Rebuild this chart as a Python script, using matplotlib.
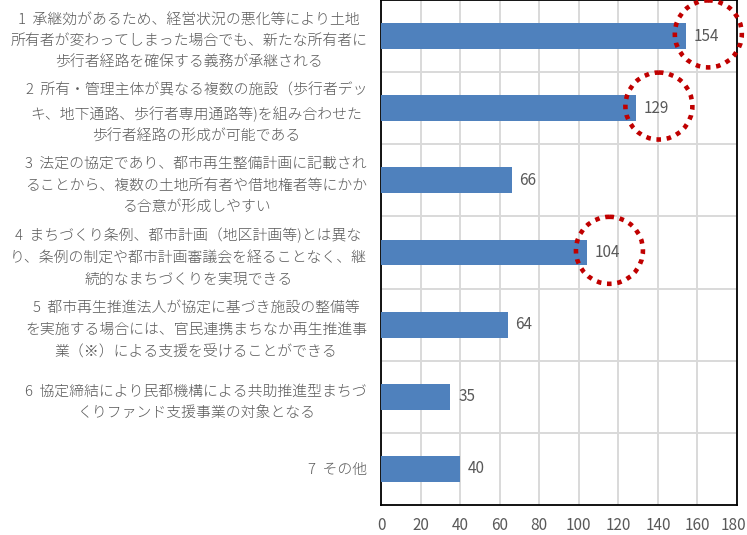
# -*- coding: utf-8 -*-
"""歩行者経路協定のメリット（回答数）横棒グラフ"""

import matplotlib
matplotlib.use("Agg")
import matplotlib.pyplot as plt
from matplotlib.patches import Ellipse
from matplotlib.transforms import ScaledTranslation

plt.rcParams['font.family'] = ['Noto Sans CJK JP', 'DejaVu Sans']

# =========【データ】=========================================================
LABELS = [
    "1  承継効があるため、経営状況の悪化等により土地\n所有者が変わってしまった場合でも、新たな所有者に\n歩行者経路を確保する義務が承継される",
    "2  所有・管理主体が異なる複数の施設（歩行者デッ\nキ、地下通路、歩行者専用通路等)を組み合わせた\n歩行者経路の形成が可能である",
    "3  法定の協定であり、都市再生整備計画に記載され\nることから、複数の土地所有者や借地権者等にかか\nる合意が形成しやすい",
    "4  まちづくり条例、都市計画（地区計画等)とは異な\nり、条例の制定や都市計画審議会を経ることなく、継\n続的なまちづくりを実現できる",
    "5  都市再生推進法人が協定に基づき施設の整備等\nを実施する場合には、官民連携まちなか再生推進事\n業（※）による支援を受けることができる",
    "6  協定締結により民都機構による共助推進型まちづ\nくりファンド支援事業の対象となる",
    "7  その他",
]
VALUES = [154, 129, 66, 104, 64, 35, 40]
HIGHLIGHT = [0, 1, 3]          # 赤い点線の丸で囲む項目
X_TICKS = list(range(0, 181, 20))
# ============================================================================

GRAY = "#595959"
BAR_COLOR = "#4F81BD"
GRID = "#D9D9D9"
RED = "#C00000"

fig = plt.figure(figsize=(7.47, 5.35), dpi=100)
ax = fig.add_axes([381 / 747, 30 / 535, 356 / 747, 505 / 535])

pos = list(range(len(VALUES)))
ax.barh(pos, VALUES, height=0.36, color=BAR_COLOR, zorder=3)

ax.set_xlim(0, 180)
ax.set_ylim(len(VALUES) - 0.5, -0.5)

# 目盛・グリッド
ax.set_xticks(X_TICKS)
ax.set_xticklabels([str(t) for t in X_TICKS], color=GRAY, fontsize=11)
ax.set_yticks(pos)
ax.set_yticklabels(LABELS, color=GRAY, fontsize=10.7, ha='right',
                   multialignment='center', linespacing=1.68,
                   fontweight='light')
ax.set_yticks([p + 0.5 for p in pos[:-1]], minor=True)
ax.tick_params(axis='both', which='both', length=0)
ax.tick_params(axis='x', pad=9)
ax.tick_params(axis='y', pad=10)
ax.grid(True, axis='x', color=GRID, linewidth=1.4, zorder=0)
ax.grid(True, axis='y', which='minor', color=GRID, linewidth=1.4, zorder=0)
ax.grid(False, axis='y', which='major')

# 右端の「180」が切れないように少し左へ
last = ax.get_xticklabels()[-1]
last.set_transform(last.get_transform()
                   + ScaledTranslation(-4 / 100, 0, fig.dpi_scale_trans))

for s in ax.spines.values():
    s.set_color("black")
    s.set_linewidth(1.3)

# 数値ラベル
for i, v in enumerate(VALUES):
    ax.text(v + 4, i, str(v), va='center', ha='left', color=GRAY,
            fontsize=11, zorder=4)

# 赤い点線の丸
x_px = 356 / 180
y_px = 505 / len(VALUES)
for i in HIGHLIGHT:
    v = VALUES[i]
    circ = Ellipse((v + 11.5, i - 0.03), width=67 / x_px, height=67 / y_px,
                   fill=False, edgecolor=RED, linewidth=3.3,
                   linestyle=(0, (1, 1.25)), clip_on=False, zorder=5)
    ax.add_patch(circ)

fig.savefig("out.png", dpi=100)
